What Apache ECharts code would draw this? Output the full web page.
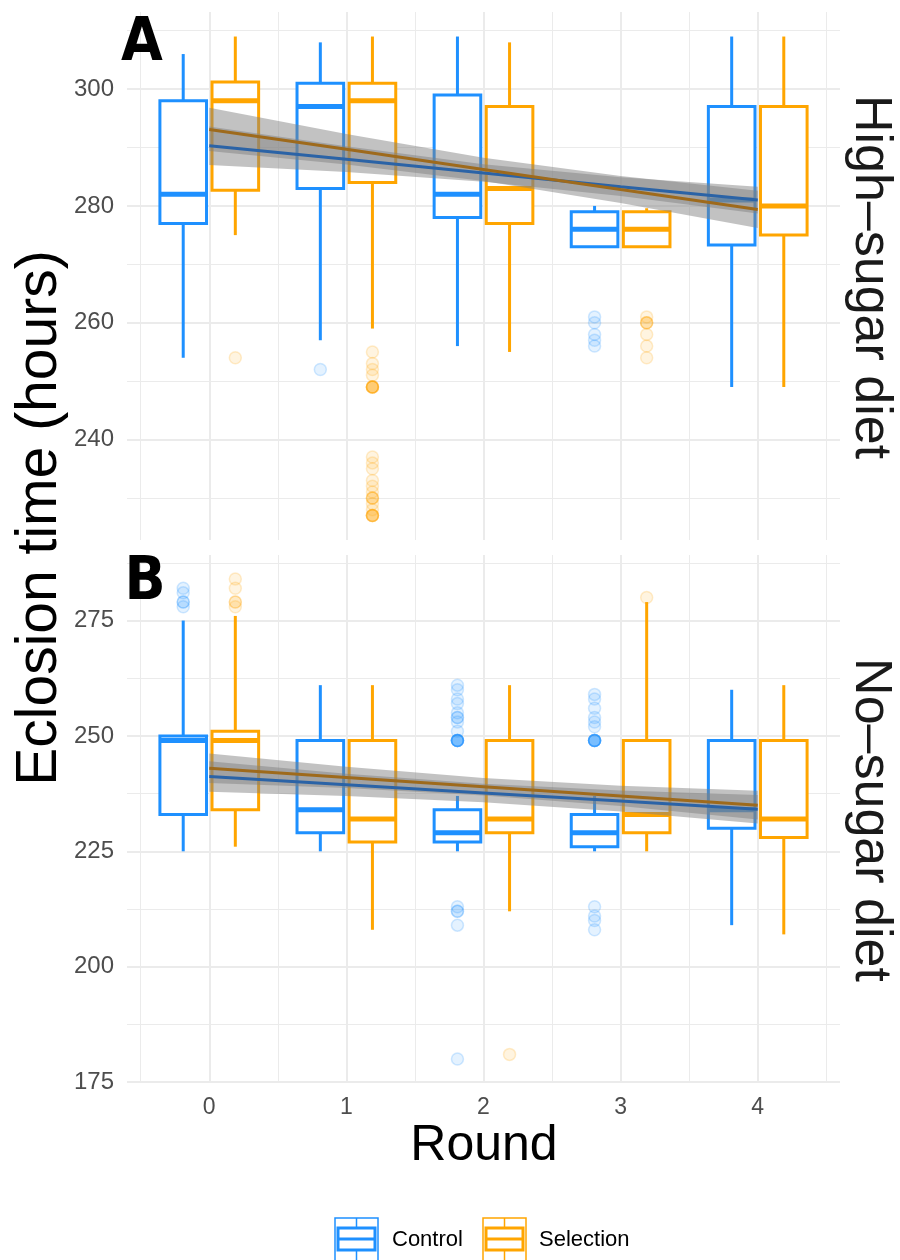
<!DOCTYPE html>
<html>
<head>
<meta charset="utf-8">
<script src="https://cdn.jsdelivr.net/npm/echarts@6/dist/echarts.min.js"></script>
<style>
html, body { margin: 0; padding: 0; background: #fff; }
#chart { width: 900px; height: 1260px; }
</style>
</head>
<body>
<div id="chart"></div>
<script>
var rounds = [0, 1, 2, 3, 4];
var groups = ['Control', 'Selection'];

// boxes, one per round: [lower whisker, Q1, median, Q3, upper whisker]
var highControl   = [[254, 277, 282, 298, 306], [257, 283, 297, 301, 308], [256, 278, 282, 299, 309], [273, 273, 276, 279, 280], [249, 273.3, 281, 297, 309]];
var highSelection = [[275, 282.7, 298, 301.2, 309], [259, 284, 298, 301, 309], [255, 277, 283, 297, 308], [273, 273, 276, 279, 279.6], [249, 275, 280, 297, 309]];
var noControl     = [[225, 233, 249, 250, 275], [225, 229, 234, 249, 261], [225, 227, 229, 234, 237], [225, 226, 229, 233, 237], [209, 230, 234, 249, 260]];
var noSelection   = [[226, 234, 249, 251, 276], [208, 227, 232, 249, 261], [212, 229, 232, 249, 261], [225, 229, 233, 249, 279], [207, 228, 232, 249, 261]];

// outliers per round (repeated values = overlapping points)
var highControlOut   = [[], [252], [], [261, 260, 258, 257, 256], []];
var highSelectionOut = [[254],
  [255, 253, 252, 251, 249, 249, 249, 249, 249, 249, 237, 236, 235, 233, 232, 231, 230, 230, 230, 229, 228, 227, 227, 227, 227, 227],
  [], [261, 260, 260, 260, 258, 256, 254], []];
var noControlOut = [[282, 281, 279, 279, 278], [],
  [261, 260, 258, 257, 255, 254, 254, 253, 251, 249, 249, 249, 249, 249, 249, 249, 213, 212, 212, 209, 180],
  [259, 258, 256, 254, 253, 252, 249, 249, 249, 249, 249, 249, 249, 213, 211, 210, 208], []];
var noSelectionOut = [[284, 282, 279, 279, 278], [], [181], [280], []];

// linear fits and half widths of their confidence bands, at each round
var highControlFit   = [290.3, 288.0, 285.65, 283.3, 281.0];
var highControlCI    = [3.3, 2.2, 1.5, 1.6, 2.3];
var highSelectionFit = [293.1, 289.7, 286.25, 282.8, 279.4];
var highSelectionCI  = [3.7, 2.6, 2.0, 2.3, 3.2];
var noControlFit     = [241.2, 239.4, 237.65, 235.9, 234.1];
var noControlCI      = [3.3, 2.4, 2.0, 2.3, 3.1];
var noSelectionFit   = [243.0, 241.0, 239.0, 237.0, 235.0];
var noSelectionCI    = [3.2, 2.3, 1.9, 2.2, 3.1];

var highTicks = [240, 260, 280, 300];
var highMinor = [230, 250, 270, 290, 310];
var noTicks = [175, 200, 225, 250, 275];
var noMinor = [187.5, 212.5, 237.5, 262.5, 287.5];
var xMinor = [-0.5, 0.5, 1.5, 2.5, 3.5, 4.5];

var colors = { Control: '#1E90FF', Selection: '#FFA500' };
var fitColors = { Control: '#2B63A6', Selection: '#9E6A1C' };
var fadeColors = { Control: 'rgba(30,144,255,', Selection: 'rgba(255,165,0,' };
var dodge = { Control: -0.19, Selection: 0.19 };
var boxWidth = 0.34;
var FONT = 'Liberation Sans, Arial, sans-serif';

var chart = echarts.init(document.getElementById('chart'));

function boxSeries(boxes, group, xi, yi) {
  var color = colors[group];
  return {
    type: 'custom', xAxisIndex: xi, yAxisIndex: yi, z: 2,
    data: boxes.map(function (b, i) { return [rounds[i] + dodge[group]].concat(b); }),
    encode: { x: 0, y: [1, 2, 3, 4, 5] },
    renderItem: function (params, api) {
      var x = api.value(0);
      var lo = api.coord([x, api.value(1)]);
      var q1 = api.coord([x, api.value(2)]);
      var md = api.coord([x, api.value(3)]);
      var q3 = api.coord([x, api.value(4)]);
      var hi = api.coord([x, api.value(5)]);
      var half = api.size([boxWidth, 0])[0] / 2;
      return {
        type: 'group',
        children: [
          { type: 'line', shape: { x1: hi[0], y1: hi[1], x2: q3[0], y2: q3[1] }, style: { stroke: color, lineWidth: 3 } },
          { type: 'line', shape: { x1: q1[0], y1: q1[1], x2: lo[0], y2: lo[1] }, style: { stroke: color, lineWidth: 3 } },
          { type: 'rect', shape: { x: q3[0] - half, y: q3[1], width: half * 2, height: q1[1] - q3[1] },
            style: { fill: '#fff', stroke: color, lineWidth: 3 } },
          { type: 'line', shape: { x1: md[0] - half, y1: md[1], x2: md[0] + half, y2: md[1] }, style: { stroke: color, lineWidth: 5 } }
        ]
      };
    }
  };
}

function outlierSeries(out, group, xi, yi) {
  var data = [];
  out.forEach(function (vals, i) {
    vals.forEach(function (v) { data.push([rounds[i] + dodge[group], v]); });
  });
  return {
    type: 'scatter', xAxisIndex: xi, yAxisIndex: yi, z: 3,
    symbol: 'circle', symbolSize: 12, data: data, silent: true,
    itemStyle: { color: fadeColors[group] + '0.12)', borderColor: fadeColors[group] + '0.2)', borderWidth: 1.5, opacity: 1 }
  };
}

function ribbonSeries(fit, ci, xi, yi) {
  return {
    type: 'custom', xAxisIndex: xi, yAxisIndex: yi, z: 4,
    data: rounds.map(function (r, i) { return [r, fit[i] - ci[i], fit[i] + ci[i]]; }),
    encode: { x: 0, y: [1, 2] },
    renderItem: function (params, api) {
      if (params.dataIndexInside !== 0) return;
      var up = [], low = [];
      for (var i = 0; i < params.dataInsideLength; i++) {
        up.push(api.coord([api.value(0, i), api.value(2, i)]));
        low.unshift(api.coord([api.value(0, i), api.value(1, i)]));
      }
      return { type: 'polygon', shape: { points: up.concat(low) }, style: { fill: 'rgba(128,128,128,0.48)' } };
    }
  };
}

function fitSeries(fit, group, xi, yi, z) {
  return {
    type: 'line', xAxisIndex: xi, yAxisIndex: yi, z: z,
    data: rounds.map(function (r, i) { return [r, fit[i]]; }),
    showSymbol: false, silent: true,
    lineStyle: { color: fitColors[group], width: 3 }
  };
}

function xAxisDef(grid, values, width, labels) {
  return {
    type: 'value', gridIndex: grid, position: 'bottom', min: -0.6, max: 4.6,
    axisLine: { show: false },
    axisTick: { show: false, customValues: values },
    axisLabel: labels ? { show: true, customValues: values, color: '#4D4D4D', fontSize: 23, fontFamily: FONT, margin: 13 } : { show: false },
    splitLine: { show: true, lineStyle: { color: '#EBEBEB', width: width } }
  };
}

function yAxisDef(grid, min, max, values, width, labels) {
  return {
    type: 'value', gridIndex: grid, position: 'left', min: min, max: max,
    axisLine: { show: false },
    axisTick: { show: false, customValues: values },
    axisLabel: labels ? { show: true, customValues: values, color: '#4D4D4D', fontSize: 24, fontFamily: FONT, margin: 13 } : { show: false },
    splitLine: { show: true, lineStyle: { color: '#EBEBEB', width: width } }
  };
}

function legendKey(x, group, label, textX) {
  var c = colors[group];
  return [
    { type: 'rect', shape: { x: x, y: 1218, width: 43, height: 46 }, style: { fill: 'none', stroke: c, lineWidth: 1.5 } },
    { type: 'line', shape: { x1: x + 21.5, y1: 1218, x2: x + 21.5, y2: 1228 }, style: { stroke: c, lineWidth: 1.5 } },
    { type: 'line', shape: { x1: x + 21.5, y1: 1250, x2: x + 21.5, y2: 1260 }, style: { stroke: c, lineWidth: 1.5 } },
    { type: 'rect', shape: { x: x + 3, y: 1228, width: 37, height: 22 }, style: { fill: '#fff', stroke: c, lineWidth: 3 } },
    { type: 'line', shape: { x1: x + 3, y1: 1239, x2: x + 40, y2: 1239 }, style: { stroke: c, lineWidth: 3 } },
    { type: 'text', x: textX, y: 1240, style: { text: label, font: '22px ' + FONT, fill: '#000', align: 'left', verticalAlign: 'middle' } }
  ];
}

var option = {
  backgroundColor: '#fff',
  animation: false,
  grid: [
    { left: 127, top: 12, width: 713, height: 528 },
    { left: 127, top: 555, width: 713, height: 528 }
  ],
  xAxis: [
    xAxisDef(0, xMinor, 1, false),
    xAxisDef(0, rounds, 2, false),
    xAxisDef(1, xMinor, 1, false),
    xAxisDef(1, rounds, 2, true)
  ],
  yAxis: [
    yAxisDef(0, 222.8, 313.2, highMinor, 1, false),
    yAxisDef(0, 222.8, 313.2, highTicks, 2, true),
    yAxisDef(1, 174.8, 289.2, noMinor, 1, false),
    yAxisDef(1, 174.8, 289.2, noTicks, 2, true)
  ],
  series: [
    boxSeries(highControl, 'Control', 1, 1),
    boxSeries(highSelection, 'Selection', 1, 1),
    outlierSeries(highControlOut, 'Control', 1, 1),
    outlierSeries(highSelectionOut, 'Selection', 1, 1),
    ribbonSeries(highControlFit, highControlCI, 1, 1),
    ribbonSeries(highSelectionFit, highSelectionCI, 1, 1),
    fitSeries(highControlFit, 'Control', 1, 1, 5),
    fitSeries(highSelectionFit, 'Selection', 1, 1, 6),

    boxSeries(noControl, 'Control', 3, 3),
    boxSeries(noSelection, 'Selection', 3, 3),
    outlierSeries(noControlOut, 'Control', 3, 3),
    outlierSeries(noSelectionOut, 'Selection', 3, 3),
    ribbonSeries(noControlFit, noControlCI, 3, 3),
    ribbonSeries(noSelectionFit, noSelectionCI, 3, 3),
    fitSeries(noControlFit, 'Control', 3, 3, 5),
    fitSeries(noSelectionFit, 'Selection', 3, 3, 6)
  ],
  graphic: [
    { type: 'text', x: 142, y: 44, z: 10, style: { text: 'A', font: 'bold 60px "DejaVu Sans Condensed", "DejaVu Sans", sans-serif', fill: '#000', align: 'center', verticalAlign: 'middle' } },
    { type: 'text', x: 145, y: 583, z: 10, style: { text: 'B', font: 'bold 60px "DejaVu Sans Condensed", "DejaVu Sans", sans-serif', fill: '#000', align: 'center', verticalAlign: 'middle' } },
    { type: 'text', x: 40, y: 518, rotation: Math.PI / 2, style: { text: 'Eclosion time (hours)', font: '57px ' + FONT, fill: '#000', align: 'center', verticalAlign: 'middle' } },
    { type: 'text', x: 484, y: 1146, style: { text: 'Round', font: '50px ' + FONT, fill: '#000', align: 'center', verticalAlign: 'middle' } },
    { type: 'text', x: 870, y: 277, rotation: -Math.PI / 2, style: { text: 'High–sugar diet', font: '52px ' + FONT, fill: '#1A1A1A', align: 'center', verticalAlign: 'middle' } },
    { type: 'text', x: 870, y: 820, rotation: -Math.PI / 2, style: { text: 'No–sugar diet', font: '52px ' + FONT, fill: '#1A1A1A', align: 'center', verticalAlign: 'middle' } }
  ].concat(legendKey(335, 'Control', groups[0], 392), legendKey(483, 'Selection', groups[1], 539))
};

chart.setOption(option);
window.onresize = function () {
  chart.resize();
};
</script>
</body>
</html>
